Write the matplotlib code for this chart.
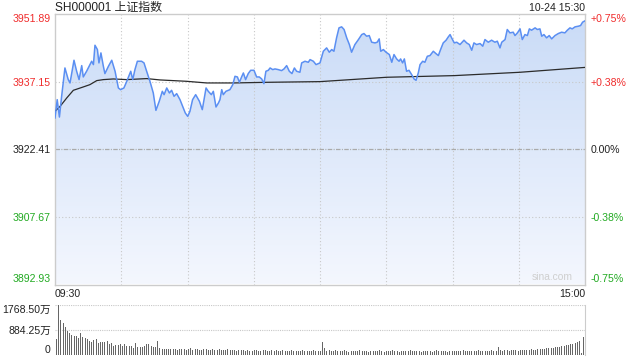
import numpy as np
import matplotlib
matplotlib.use('Agg')
import matplotlib.pyplot as plt
from matplotlib.colors import LinearSegmentedColormap

plt.rcParams['font.family'] = ['Liberation Sans', 'Noto Sans CJK SC', 'DejaVu Sans']

# minute index from 09:30 (0) to 15:00 (240), lunch break squeezed out
price_minutes = [
  0, 1, 2, 3, 4.5, 6, 6.8, 8.6, 9.8, 10.9, 12.1, 12.8, 14.3, 15.8, 16.6, 17.4, 18.1, 19.2, 19.9, 20.8,
  21.9, 22.6, 24.2, 25.7, 27.2, 28.7, 29.7, 31.2, 32.5, 34.3, 35.2, 36.2, 37.3, 39.2, 40.3, 41.5, 43.0,
  44.5, 45.7, 47.2, 48.6, 49.4, 50.6, 51.8, 52.8, 53.9, 55.1, 56.6, 57.8, 59.0, 60.1, 61.1, 62.3, 63.7,
  65.4, 66.7, 68.4, 69.4, 70.8, 71.7, 72.9, 74.0, 74.7, 75.5, 76.2, 77.4, 79.2, 80.5, 81.5, 82.6, 83.5,
  84.5, 85.3, 86.3, 87.5, 88.6, 90.1, 91.3, 92.5, 93.6, 94.6, 95.5, 96.6, 97.4, 98.6, 99.6, 101.1, 102.6,
  103.7, 104.9, 106.1, 107.3, 108.4, 109.4, 110.9, 111.7, 113.2, 114.7, 115.5, 117.0, 118.2, 120.0,
  121.5, 123.0, 124.2, 125.3, 126.3, 127.5, 128.6, 129.8, 130.9, 132.1, 133.3, 134.3, 135.8, 137.4,
  138.9, 139.9, 141.1, 142.3, 143.4, 144.9, 145.9, 146.8, 147.5, 148.7, 149.9, 151.4, 152.5, 153.5,
  154.7, 155.8, 156.5, 157.4, 158.2, 159.2, 160.3, 161.5, 162.6, 163.5, 164.5, 165.3, 166.5, 167.5,
  168.6, 169.8, 171.3, 172.5, 173.6, 174.6, 175.8, 177.1, 178.1, 178.9, 179.6, 180.8, 181.9, 183.4,
  185.2, 186.4, 187.6, 188.7, 189.7, 190.9, 192.5, 193.7, 194.7, 196.2, 197.7, 199.2, 200.3, 201.5,
  202.3, 203.8, 204.8, 206.0, 207.5, 208.3, 209.4, 210.6, 211.6, 212.8, 213.9, 214.8, 215.8, 217.4,
  218.4, 219.6, 220.4, 221.4, 222.6, 223.8, 224.9, 226.4, 227.9, 229.4, 230.9, 232.0, 233.2, 234.2,
  235.5, 237.0, 238.0, 238.9, 240.0]
prices = [
  3929.22, 3933.22, 3929.43, 3933.95, 3940.13, 3937.59, 3936.86, 3941.81, 3939.41, 3937.59, 3940.64,
  3938.17, 3939.41, 3940.86, 3941.59, 3940.86, 3945.08, 3944.14, 3941.23, 3943.41, 3940.50, 3938.90,
  3940.50, 3941.81, 3939.41, 3935.77, 3935.40, 3935.77, 3937.22, 3939.41, 3937.59, 3939.77, 3941.59,
  3941.59, 3941.23, 3939.41, 3937.22, 3934.68, 3930.89, 3932.86, 3935.04, 3934.31, 3935.77, 3934.68,
  3935.26, 3933.95, 3934.53, 3933.22, 3931.76, 3930.31, 3929.58, 3930.67, 3933.22, 3934.31, 3932.86,
  3931.04, 3935.77, 3935.04, 3934.31, 3935.04, 3931.62, 3932.49, 3933.22, 3935.40, 3934.31, 3935.04,
  3935.40, 3936.49, 3938.31, 3938.17, 3937.00, 3938.17, 3939.04, 3937.59, 3938.90, 3939.62, 3939.62,
  3938.17, 3938.17, 3937.73, 3936.71, 3939.41, 3939.62, 3940.13, 3939.77, 3939.92, 3939.77, 3939.55,
  3939.92, 3940.64, 3939.41, 3938.90, 3940.13, 3939.41, 3939.19, 3941.23, 3941.59, 3941.37, 3941.95,
  3941.59, 3940.86, 3941.23,
  3943.77, 3944.50, 3943.56, 3944.14, 3943.77, 3946.69, 3948.87, 3949.09, 3948.51, 3946.69, 3945.23,
  3943.56, 3945.23, 3946.32, 3947.41, 3947.63, 3947.05, 3947.19, 3945.74, 3945.59, 3945.74, 3946.47,
  3943.77, 3944.14, 3943.56, 3943.05, 3941.37, 3943.05, 3942.10, 3941.59, 3942.10, 3941.23, 3942.10,
  3939.41, 3939.62, 3938.68, 3937.73, 3937.44, 3939.04, 3940.86, 3941.59, 3941.37, 3942.68, 3942.83,
  3943.77, 3943.26, 3942.83, 3944.14, 3945.59, 3946.18, 3946.90, 3947.41, 3946.69, 3945.59, 3945.74,
  3945.23, 3946.18, 3945.59, 3945.23, 3943.99, 3945.59, 3945.23, 3945.45, 3944.87, 3946.32, 3945.74,
  3946.18, 3945.74, 3945.96, 3944.50, 3945.74, 3946.32, 3948.51, 3947.78, 3947.92, 3947.19, 3947.78,
  3948.65, 3946.32, 3947.41, 3947.19, 3948.65, 3948.36, 3948.87, 3948.51, 3948.65, 3947.05, 3947.41,
  3946.69, 3947.19, 3946.47, 3947.19, 3947.63, 3947.92, 3947.78, 3948.36, 3948.87, 3948.65, 3949.09,
  3949.23, 3949.38, 3950.11, 3950.40]

avg_minutes = [0, 2.3, 5.3, 8.3, 12.8, 15.8, 18.9, 21.9, 26.4, 32.5, 41.5, 47.5, 59.6, 68.7, 80.8,
               95.8, 120.0, 150.2, 180.8, 210.6, 240.0]
avg_prices = [3930.67, 3931.76, 3933.58, 3935.26, 3935.99, 3936.49, 3937.37, 3937.59, 3937.73, 3937.59,
              3937.81, 3937.52, 3937.22, 3936.86, 3936.86, 3937.00, 3937.15, 3938.10, 3938.46, 3939.19,
              3940.25]

# volume per minute, unit 万
volume = [
  554, 1768.5, 1238, 1144, 1002, 849, 790, 707, 672, 672, 613, 766, 648, 613, 554, 495, 472, 530, 554,
  413, 472, 448, 448, 495, 377, 413, 318, 354, 354, 377, 318, 377, 330, 330, 330, 259, 436, 295, 295,
  295, 330, 377, 377, 330, 295, 295, 495,
  236, 212, 212, 200, 212, 224, 212, 200, 189, 212, 224, 200, 189, 212,
  236, 189, 200, 212, 177, 189, 200, 212, 177, 189, 200, 165, 177, 200, 189, 165, 177, 212, 189, 165,
  177, 153, 165, 189, 177, 153, 165, 141, 153, 177, 165, 141, 153, 165, 189, 153, 141, 165, 153, 177,
  141, 153, 165, 141, 130, 153, 165, 141, 153, 130, 141, 165, 153, 130, 141, 153, 165, 141, 130, 153,
  472, 236,
  141, 165, 130, 153, 177, 141, 130, 153, 165, 141, 118, 141, 153, 130, 141, 165, 141, 130, 153, 118,
  141, 153, 130, 141, 165, 153, 118, 130, 141, 153, 165, 141, 130, 118, 141, 153, 130, 141, 165, 141,
  130, 153, 141, 118, 130, 141, 153, 130, 118, 141, 165, 141, 130, 153, 141, 118, 130, 141, 153, 130,
  141, 153, 165, 141, 130, 153, 141, 130, 153, 165, 141, 153, 130, 141, 153, 165, 141, 153,
  271,
  165, 141, 189, 165, 153, 177, 165, 189, 153, 165, 177, 189, 165, 177, 200, 177, 189, 200, 212,
  224, 212, 236, 247, 236, 259, 271, 283, 295, 306, 330, 354, 354, 377, 389, 413, 460, 495,
  59, 648]

price_levels = [3892.93, 3907.67, 3922.41, 3937.15, 3951.89]
price_labels = ['3892.93', '3907.67', '3922.41', '3937.15', '3951.89']
pct_labels = ['-0.75%', '-0.38%', '0.00%', '+0.38%', '+0.75%']
vol_levels = [0, 884.25, 1768.5]
vol_labels = ['0', '884.25万', '1768.50万']
time_ticks = [0, 240]
time_labels = ['09:30', '15:00']

RED = '#f02c2c'
GREEN = '#22aa22'
DARK = '#222222'
level_colors = [GREEN, GREEN, DARK, RED, RED]
BORDER = '#cccccc'
GRID = '#c8c8c8'


def style_labels(labels, colors):
  for lab, c in zip(labels, colors):
    lab.set_color(c)
  labels[0].set_va('bottom')
  labels[-1].set_va('top')


def draw_price(ax):
  lo, hi = price_levels[0], price_levels[-1]
  ax.set_xlim(0, 240)
  ax.set_ylim(lo, hi)

  grad = np.linspace(0, 1, 256).reshape(-1, 1)
  cmap = LinearSegmentedColormap.from_list('fill', ['#c9dbf7', '#f4f7fe'])
  im = ax.imshow(grad, extent=[0, 240, lo, hi], aspect='auto', cmap=cmap,
                 origin='upper', zorder=1, interpolation='bilinear')
  poly = ax.fill_between(price_minutes, prices, lo, facecolor='none', edgecolor='none')
  im.set_clip_path(poly.get_paths()[0], transform=ax.transData)

  for m in range(30, 240, 30):
    ax.axvline(m, color=GRID, lw=0.8, ls=(0, (1, 2)), zorder=2)
  ax.axhline(price_levels[1], color=GRID, lw=0.8, ls=(0, (1, 2)), zorder=2)
  ax.axhline(price_levels[3], color=GRID, lw=0.8, ls=(0, (1, 2)), zorder=2)
  ax.axhline(price_levels[2], color='#aaaaaa', lw=0.9, ls=(0, (3.6, 1.1, 0.8, 1.1)), zorder=2)

  ax.plot(avg_minutes, avg_prices, color='#2b2b2b', lw=0.9, zorder=3)
  ax.plot(price_minutes, prices, color='#5b8ff2', lw=1.1, zorder=4)

  for s in ax.spines.values():
    s.set_color(BORDER)
    s.set_linewidth(1.0)

  ax.set_yticks(price_levels, price_labels)
  ax.tick_params(axis='y', length=0, pad=3, labelsize=7.6)
  style_labels(ax.get_yticklabels(), level_colors)

  ax.set_xticks(time_ticks, time_labels)
  ax.tick_params(axis='x', length=0, pad=3, labelsize=7.6, labelcolor=DARK)
  xl = ax.get_xticklabels()
  xl[0].set_ha('left')
  xl[1].set_ha('right')

  rax = ax.twinx()
  rax.set_ylim(lo, hi)
  rax.set_yticks(price_levels, pct_labels)
  rax.tick_params(axis='y', length=0, pad=4, labelsize=7.6)
  style_labels(rax.get_yticklabels(), level_colors)
  for s in rax.spines.values():
    s.set_visible(False)

  ax.text(0.0, 1.021, 'SH000001 上证指数', transform=ax.transAxes, ha='left', va='center',
          fontsize=8.6, color=DARK)
  ax.text(1.0, 1.021, '10-24 15:30', transform=ax.transAxes, ha='right', va='center',
          fontsize=7.6, color=DARK)
  ax.text(0.977, 0.008, 'sina.com', transform=ax.transAxes, ha='right', va='bottom',
          fontsize=7.4, color='#cfcfcf')


def draw_volume(ax):
  mins = np.arange(len(volume))
  ax.set_xlim(-0.5, 240.7)
  ax.set_ylim(0, vol_levels[-1])
  for v in vol_levels:
    ax.axhline(v, color=GRID, lw=0.8, ls=(0, (1, 1)), zorder=1)
  ax.vlines(mins, 0, volume, colors='#666666', lw=0.72, antialiased=False, zorder=2)
  for name, s in ax.spines.items():
    s.set_visible(name == 'right')
  ax.spines['right'].set_color(BORDER)
  ax.set_xticks([])
  ax.set_yticks(vol_levels, vol_labels)
  ax.tick_params(axis='y', length=0, pad=3, labelsize=7.6, labelcolor=DARK)
  ylab = ax.get_yticklabels()
  ylab[0].set_va('bottom')
  ylab[-1].set_va('top')


def main():
  fig = plt.figure(figsize=(6.4, 3.6), dpi=100)
  ax = fig.add_axes([55 / 640, 1 - 284.5 / 360, 530 / 640, 270.5 / 360])
  vax = fig.add_axes([55 / 640, 1 - 355 / 360, 530 / 640, 50 / 360])
  draw_price(ax)
  draw_volume(vax)
  fig.savefig('out.png', dpi=100)


if __name__ == '__main__':
  main()
